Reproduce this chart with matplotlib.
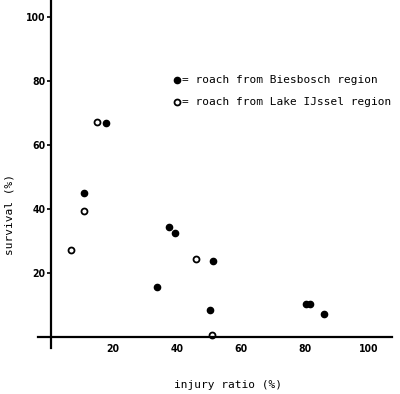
import matplotlib.pyplot as plt

# roach from Biesbosch region (filled)
bies_x = [18, 11, 37.5, 39.5, 33.8, 51.2, 50.3, 80.2, 81.5, 86]
bies_y = [67, 45, 34.5, 32.5, 15.6, 23.7, 8.4, 10.3, 10.3, 7.2]

# roach from Lake IJssel region (open)
ijs_x = [15, 10.9, 6.9, 45.9, 50.9]
ijs_y = [67.3, 39.4, 27.2, 24.4, 0.8]

ticks = [20, 40, 60, 80, 100]

fig = plt.figure(figsize=(4, 3.94), dpi=100)
ax = fig.add_axes([38/400, 46/394, 354/400, 348/394])

ax.plot(bies_x, bies_y, 'o', color='black', markersize=4.5, linestyle='none')
ax.plot(ijs_x, ijs_y, 'o', markerfacecolor='white', markeredgecolor='black',
        markeredgewidth=1.3, markersize=4.3, linestyle='none')

ax.set_xlim(-3.4, 107.2)
ax.set_ylim(-3.4, 105.3)

for s in ['top', 'right']:
    ax.spines[s].set_visible(False)
ax.spines['left'].set_position(('data', 0.6))
ax.spines['bottom'].set_position(('data', 0))
ax.spines['left'].set_linewidth(1.6)
ax.spines['bottom'].set_linewidth(1.6)

ax.set_xticks(ticks)
ax.set_yticks(ticks)
ax.tick_params(axis='y', length=3, width=1.2, direction='out', pad=1)
ax.tick_params(axis='x', length=0, pad=5)
for lab in ax.get_xticklabels() + ax.get_yticklabels():
    lab.set_fontweight('bold')
    lab.set_fontsize(7.5)
    lab.set_family('DejaVu Sans')
    lab.set_fontstretch('condensed')

fig.text(0.025, 0.455, 'survival (%)', rotation=90, ha='center', va='center',
         family='DejaVu Sans Mono', fontsize=8)
fig.text(0.57, 0.022, 'injury ratio (%)', ha='center', va='center',
         family='DejaVu Sans Mono', fontsize=8)

# legend drawn by hand
fig.lines.append(plt.Line2D([177/400], [1 - 80/394], marker='o', color='black',
                            markersize=4.5, linestyle='none', transform=fig.transFigure))
fig.lines.append(plt.Line2D([177/400], [1 - 102/394], marker='o', markerfacecolor='white',
                            markeredgecolor='black', markeredgewidth=1.3, markersize=4.3,
                            linestyle='none', transform=fig.transFigure))
fig.text(182/400, 1 - 80/394, '= roach from Biesbosch region', ha='left', va='center',
         family='DejaVu Sans Mono', fontsize=8)
fig.text(182/400, 1 - 102/394, '= roach from Lake IJssel region', ha='left', va='center',
         family='DejaVu Sans Mono', fontsize=8)

fig.savefig('out.png', dpi=100)
